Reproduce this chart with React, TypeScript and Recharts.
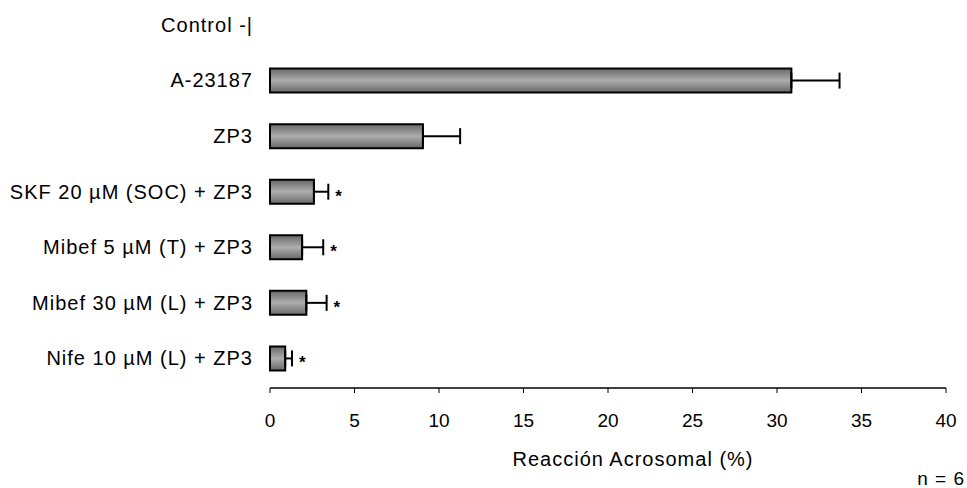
import { Bar, BarChart, ErrorBar, LabelList, XAxis, YAxis, Label } from "recharts";

const categories = [
  "Control -|",
  "A-23187",
  "ZP3",
  "SKF 20 µM (SOC) + ZP3",
  "Mibef 5 µM (T) + ZP3",
  "Mibef 30 µM (L) + ZP3",
  "Nife 10 µM (L) + ZP3",
];
const values = [0, 30.85, 9.05, 2.6, 1.9, 2.15, 0.9];
const errors = [0, 2.85, 2.2, 0.85, 1.25, 1.2, 0.4];
const significant = [false, false, false, true, true, true, true];
const xTicks = [0, 5, 10, 15, 20, 25, 30, 35, 40];

const data = categories.map((name, i) => ({
  name,
  value: values[i],
  err: [0, errors[i]],
  // end of the error bar, used to place the significance asterisk
  starAt: significant[i] ? values[i] + errors[i] : null,
}));

const W = 967;
const H = 488;
const LEFT = 270;
const RIGHT = 21;
const X_MAX = 40;
const pxPerUnit = (W - LEFT - RIGHT) / X_MAX;

const font = "'Liberation Sans', Arial, sans-serif";

function Star(props: any) {
  const { y, height, value } = props;
  if (value == null || value === "") return null;
  const cx = LEFT + pxPerUnit * Number(value) + 7;
  return (
    <text x={cx} y={y + height / 2 + 10} fontSize={17} fontWeight={700} fontFamily={font} fill="#000">
      *
    </text>
  );
}

export default function App() {
  return (
    <div style={{ position: "absolute", left: 0, top: 0, background: "#fff" }}>
      <BarChart
        width={W}
        height={H}
        data={data}
        layout="vertical"
        margin={{ top: -3, right: RIGHT, bottom: 0, left: 0 }}
        barSize={24}
      >
        <defs>
          <linearGradient id="barFill" x1="0" y1="0" x2="0" y2="1">
            <stop offset="0%" stopColor="#686868" />
            <stop offset="50%" stopColor="#adadad" />
            <stop offset="100%" stopColor="#686868" />
          </linearGradient>
        </defs>
        <XAxis
          type="number"
          domain={[0, X_MAX]}
          ticks={xTicks}
          interval={0}
          height={100}
          tickSize={5}
          tickMargin={21}
          axisLine={{ stroke: "#000", strokeWidth: 1.5 }}
          tickLine={{ stroke: "#000", strokeWidth: 1 }}
          tick={{ fontSize: 19, fill: "#000", fontFamily: font }}
        >
          <Label
            value="Reacción Acrosomal (%)"
            position="insideBottom"
            offset={22}
            dx={25}
            style={{ fontSize: 20, fill: "#000", fontFamily: font, letterSpacing: 1 }}
          />
          <Label
            value="n = 6"
            position="insideBottomRight"
            offset={3}
            dx={22}
            style={{ fontSize: 19, fill: "#000", fontFamily: font, letterSpacing: 1 }}
          />
        </XAxis>
        <YAxis
          type="category"
          dataKey="name"
          width={LEFT}
          axisLine={false}
          tickLine={false}
          tickSize={0}
          tickMargin={17}
          interval={0}
          padding={{ top: 0, bottom: 2 }}
          tick={{ fontSize: 20, fill: "#000", fontFamily: font, letterSpacing: 1 }}
        />
        <Bar dataKey="value" fill="url(#barFill)" stroke="#000" strokeWidth={2} isAnimationActive={false}>
          <ErrorBar dataKey="err" direction="x" width={8} stroke="#000" strokeWidth={2} />
          <LabelList dataKey="starAt" content={<Star />} />
        </Bar>
      </BarChart>
    </div>
  );
}
